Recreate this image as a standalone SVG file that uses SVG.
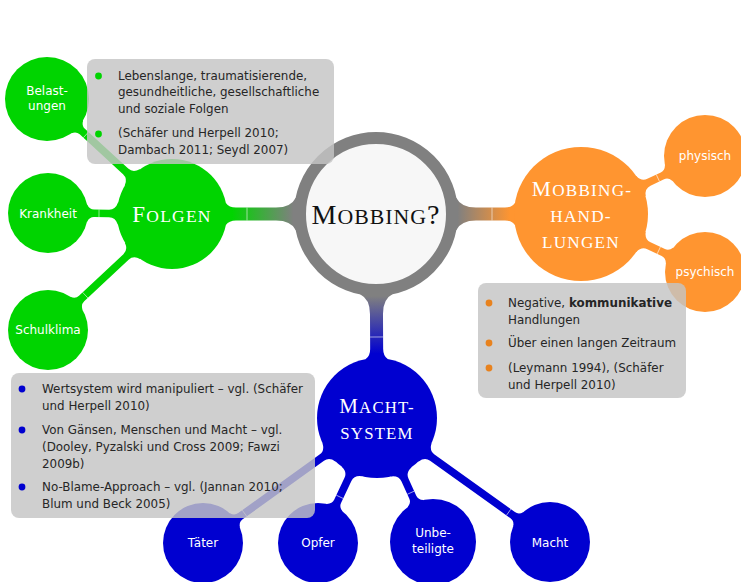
<svg xmlns="http://www.w3.org/2000/svg" width="741" height="582" viewBox="0 0 741 582">
<style>
.lbl{font-family:"DejaVu Sans","Liberation Sans",sans-serif;font-size:12px;fill:#fff;text-anchor:middle}
.hd{font-family:"Liberation Serif",serif;fill:#fff;text-anchor:middle;letter-spacing:1.2px}
.note{font-family:"DejaVu Sans","Liberation Sans",sans-serif;font-size:11.9px;fill:#262626}
.box{fill:#c4c4c4;fill-opacity:0.82}
.tick{stroke:#fff;stroke-opacity:0.7;stroke-width:0.8;fill:none}
.cg{fill:#00d400}.co{fill:#ff9530}.cb{fill:#0000d0}
.bg{fill:#00d400}.bo{fill:#e8821e}.bb{fill:#0000d0}
</style>
<defs>
<linearGradient id="gG" x1="0" y1="0" x2="1" y2="0"><stop offset="0.1" stop-color="#808080"/><stop offset="0.85" stop-color="#00d400"/></linearGradient>
<linearGradient id="gO" x1="0" y1="0" x2="1" y2="0"><stop offset="0.1" stop-color="#808080"/><stop offset="0.85" stop-color="#ff9530"/></linearGradient>
<linearGradient id="gB" x1="0" y1="0" x2="1" y2="0"><stop offset="0.1" stop-color="#808080"/><stop offset="0.85" stop-color="#0000d0"/></linearGradient>
</defs>
<rect width="741" height="582" fill="#fff"/>
<g id="connectors">
<g transform="translate(376,214) rotate(180)">
<path fill="url(#gG)" d="M74.42,-16 L80.42,-16 Q85,-6.5 100,-6.5 L140,-6.5 Q147,-6.5 150.11,-11 L156.11,-11 L156.11,11 L150.11,11 Q147,6.5 140,6.5 L100,6.5 Q85,6.5 80.42,16 L74.42,16 Z"/>
<path class="tick" d="M129,-6.5 V6.5"/>
</g>
<g transform="translate(376,214)">
<path fill="url(#gO)" d="M74.42,-16 L80.42,-16 Q85,-6.5 100,-6.5 L129,-6.5 Q136,-6.5 138.91,-11 L144.91,-11 L144.91,11 L138.91,11 Q136,6.5 129,6.5 L100,6.5 Q85,6.5 80.42,16 L74.42,16 Z"/>
<path class="tick" d="M116,-6.5 V6.5"/>
</g>
<g transform="translate(376,214) rotate(89.72)">
<path fill="url(#gB)" d="M74.42,-16 L80.42,-16 Q85,-6.5 100,-6.5 L135,-6.5 Q142,-6.5 145.02,-11 L151.02,-11 L151.02,11 L145.02,11 Q142,6.5 135,6.5 L100,6.5 Q85,6.5 80.42,16 L74.42,16 Z"/>
<path class="tick" d="M123,-6.5 V6.5"/>
</g>
<g transform="translate(172,214) rotate(-137.4)">
<path class="cg" d="M48.08,-11 L54.08,-11 Q56.5,-3.8 63,-3.8 L121.9,-3.8 Q126.4,-3.8 128.67,-8.5 L134.67,-8.5 L134.67,8.5 L128.67,8.5 Q126.4,3.8 121.9,3.8 L63,3.8 Q56.5,3.8 54.08,11 L48.08,11 Z"/>
<path class="tick" d="M116.9,-3.8 V3.8"/>
</g>
<g transform="translate(172,214) rotate(180.5)">
<path class="cg" d="M48.08,-11 L54.08,-11 Q56.5,-3.8 63,-3.8 L78,-3.8 Q82.5,-3.8 84.81,-8.5 L90.81,-8.5 L90.81,8.5 L84.81,8.5 Q82.5,3.8 78,3.8 L63,3.8 Q56.5,3.8 54.08,11 L48.08,11 Z"/>
<path class="tick" d="M73,-3.8 V3.8"/>
</g>
<g transform="translate(172,214) rotate(136.9)">
<path class="cg" d="M48.08,-11 L54.08,-11 Q56.5,-3.8 63,-3.8 L123.8,-3.8 Q128.3,-3.8 130.61,-8.5 L136.61,-8.5 L136.61,8.5 L130.61,8.5 Q128.3,3.8 123.8,3.8 L63,3.8 Q56.5,3.8 54.08,11 L48.08,11 Z"/>
<path class="tick" d="M118.8,-3.8 V3.8"/>
</g>
<g transform="translate(581,214) rotate(-25.1)">
<path class="co" d="M60.25,-11 L66.25,-11 Q68.5,-3.8 75,-3.8 L89.9,-3.8 Q94.4,-3.8 96.69,-8.5 L102.69,-8.5 L102.69,8.5 L96.69,8.5 Q94.4,3.8 89.9,3.8 L75,3.8 Q68.5,3.8 66.25,11 L60.25,11 Z"/>
<path class="tick" d="M84.9,-3.8 V3.8"/>
</g>
<g transform="translate(581,214) rotate(25.1)">
<path class="co" d="M60.25,-11 L66.25,-11 Q68.5,-3.8 75,-3.8 L90.9,-3.8 Q95.4,-3.8 97.71,-8.5 L103.71,-8.5 L103.71,8.5 L97.71,8.5 Q95.4,3.8 90.9,3.8 L75,3.8 Q68.5,3.8 66.25,11 L60.25,11 Z"/>
<path class="tick" d="M85.9,-3.8 V3.8"/>
</g>
<g transform="translate(377,418) rotate(144.3)">
<path class="cb" d="M53.16,-11 L59.16,-11 Q61.5,-3.8 68,-3.8 L168.2,-3.8 Q172.7,-3.8 175.01,-8.5 L181.01,-8.5 L181.01,8.5 L175.01,8.5 Q172.7,3.8 168.2,3.8 L68,3.8 Q61.5,3.8 59.16,11 L53.16,11 Z"/>
<path class="tick" d="M163.2,-3.8 V3.8"/>
</g>
<g transform="translate(377,418) rotate(115.3)">
<path class="cb" d="M53.16,-11 L59.16,-11 Q61.5,-3.8 68,-3.8 L92.2,-3.8 Q96.7,-3.8 99.01,-8.5 L105.01,-8.5 L105.01,8.5 L99.01,8.5 Q96.7,3.8 92.2,3.8 L68,3.8 Q61.5,3.8 59.16,11 L53.16,11 Z"/>
<path class="tick" d="M87.2,-3.8 V3.8"/>
</g>
<g transform="translate(377,418) rotate(65.7)">
<path class="cb" d="M53.16,-11 L59.16,-11 Q61.5,-3.8 68,-3.8 L87,-3.8 Q91.5,-3.8 93.75,-8.5 L99.75,-8.5 L99.75,8.5 L93.75,8.5 Q91.5,3.8 87,3.8 L68,3.8 Q61.5,3.8 59.16,11 L53.16,11 Z"/>
<path class="tick" d="M82,-3.8 V3.8"/>
</g>
<g transform="translate(377,418) rotate(35.6)">
<path class="cb" d="M53.16,-11 L59.16,-11 Q61.5,-3.8 68,-3.8 L166.9,-3.8 Q171.4,-3.8 173.71,-8.5 L179.71,-8.5 L179.71,8.5 L173.71,8.5 Q171.4,3.8 166.9,3.8 L68,3.8 Q61.5,3.8 59.16,11 L53.16,11 Z"/>
<path class="tick" d="M161.9,-3.8 V3.8"/>
</g>
</g>
<g id="mobbing">
<circle cx="376" cy="214" r="76" fill="#f7f7f7" stroke="#808080" stroke-width="12"/>
<text x="376" y="224" font-family="Liberation Serif,serif" font-size="28" fill="#111" text-anchor="middle" letter-spacing="1">M<tspan font-size="21.8">OBBING</tspan>?</text>
</g>
<g id="folgen">
<circle class="cg" cx="172" cy="214" r="55"/>
<text class="hd" x="172" y="222" font-size="23">F<tspan font-size="17.5">OLGEN</tspan></text>
</g>
<g id="belastungen">
<circle class="cg" cx="47" cy="99" r="42"/>
<text class="lbl" x="47" y="95">Belast-</text>
<text class="lbl" x="47" y="110">ungen</text>
</g>
<g id="krankheit">
<circle class="cg" cx="48" cy="213" r="40"/>
<text class="lbl" x="48" y="218">Krankheit</text>
</g>
<g id="schulklima">
<circle class="cg" cx="48" cy="330" r="40"/>
<text class="lbl" x="48" y="334">Schulklima</text>
</g>
<g id="mobbinghandlungen">
<circle class="co" cx="581" cy="214" r="67"/>
<text class="hd" x="582" y="196" font-size="21.5">M<tspan font-size="17.2">OBBING-</tspan></text>
<text class="hd" x="581" y="222" font-size="17.2">HAND-</text>
<text class="hd" x="581" y="248" font-size="17.2">LUNGEN</text>
</g>
<g id="physisch">
<circle class="co" cx="705" cy="156" r="41"/>
<text class="lbl" x="705" y="160">physisch</text>
</g>
<g id="psychisch">
<circle class="co" cx="705" cy="272" r="40"/>
<text class="lbl" x="705" y="276">psychisch</text>
</g>
<g id="machtsystem">
<circle class="cb" cx="377" cy="418" r="60"/>
<text class="hd" x="377" y="413" font-size="21">M<tspan font-size="16.8">ACHT-</tspan></text>
<text class="hd" x="377" y="439" font-size="16.8">SYSTEM</text>
</g>
<g id="taeter">
<circle class="cb" cx="203" cy="543" r="40"/>
<text class="lbl" x="203" y="547">Täter</text>
</g>
<g id="opfer">
<circle class="cb" cx="318" cy="543" r="40"/>
<text class="lbl" x="318" y="547">Opfer</text>
</g>
<g id="unbeteiligte">
<circle class="cb" cx="433" cy="542" r="43"/>
<text class="lbl" x="433" y="537">Unbe-</text>
<text class="lbl" x="433" y="553">teiligte</text>
</g>
<g id="macht">
<circle class="cb" cx="550" cy="542" r="40"/>
<text class="lbl" x="550" y="547">Macht</text>
</g>
<g id="note-folgen">
<rect class="box" x="87" y="59" width="247" height="105" rx="8"/>
<circle class="bg" cx="98.5" cy="76" r="3.4"/>
<circle class="bg" cx="98.5" cy="134" r="3.4"/>
<text class="note" x="118" y="79.5">Lebenslange, traumatisierende,</text>
<text class="note" x="118" y="96">gesundheitliche, gesellschaftliche</text>
<text class="note" x="118" y="112.5">und soziale Folgen</text>
<text class="note" x="118" y="137">(Schäfer und Herpell 2010;</text>
<text class="note" x="118" y="153.5">Dambach 2011; Seydl 2007)</text>
</g>
<g id="note-mobbinghandlungen">
<rect class="box" x="478" y="283" width="208" height="115" rx="8"/>
<circle class="bo" cx="489" cy="303" r="3.4"/>
<circle class="bo" cx="489" cy="343" r="3.4"/>
<circle class="bo" cx="489" cy="368" r="3.4"/>
<text class="note" x="508" y="307">Negative, <tspan font-weight="bold">kommunikative</tspan></text>
<text class="note" x="508" y="323.5">Handlungen</text>
<text class="note" x="508" y="346.5">Über einen langen Zeitraum</text>
<text class="note" x="508" y="372">(Leymann 1994), (Schäfer</text>
<text class="note" x="508" y="388.5">und Herpell 2010)</text>
</g>
<g id="note-machtsystem">
<rect class="box" x="11" y="373" width="304" height="145" rx="8"/>
<circle class="bb" cx="22" cy="389" r="3.4"/>
<circle class="bb" cx="22" cy="430" r="3.4"/>
<circle class="bb" cx="22" cy="487" r="3.4"/>
<text class="note" x="42" y="393">Wertsystem wird manipuliert – vgl. (Schäfer</text>
<text class="note" x="42" y="410">und Herpell 2010)</text>
<text class="note" x="42" y="434">Von Gänsen, Menschen und Macht – vgl.</text>
<text class="note" x="42" y="451">(Dooley, Pyzalski und Cross 2009; Fawzi</text>
<text class="note" x="42" y="467.5">2009b)</text>
<text class="note" x="42" y="491">No-Blame-Approach – vgl. (Jannan 2010;</text>
<text class="note" x="42" y="507.5">Blum und Beck 2005)</text>
</g>
</svg>
